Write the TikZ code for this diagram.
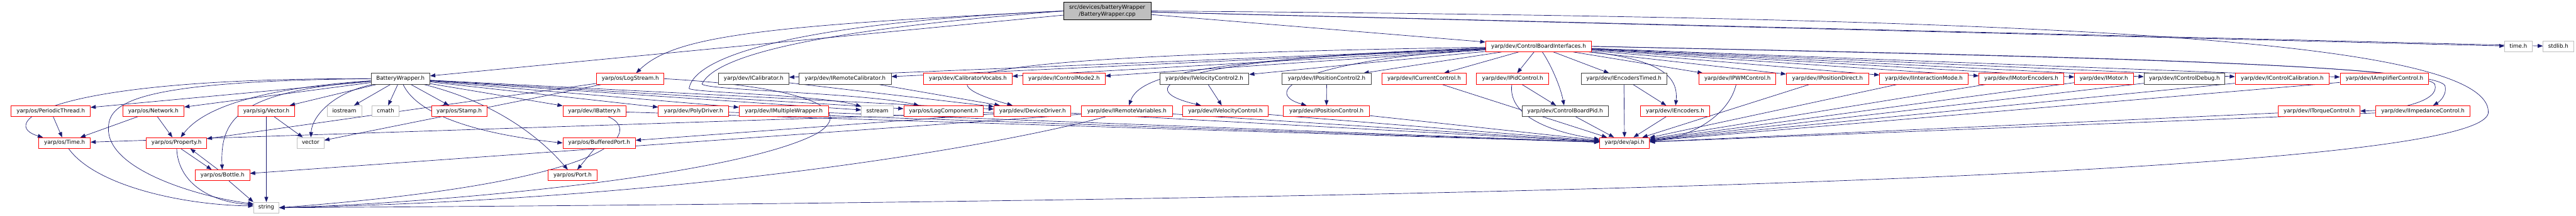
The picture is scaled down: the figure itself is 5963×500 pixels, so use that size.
\documentclass[tikz,border=0pt]{standalone}
\usepackage{fontspec}
\setmainfont{DejaVu Sans}
\usetikzlibrary{arrows.meta}
\pgfdeclarelayer{bg}
\pgfsetlayers{bg,main}
\definecolor{dnavy}{HTML}{191970}
\definecolor{dred}{HTML}{FF0000}
\definecolor{dgrey}{HTML}{BFBFBF}
\definecolor{dblack}{HTML}{404040}

\begin{document}
\begin{tikzpicture}[x=1pt,y=-1pt,every node/.style={font=\fontsize{12.7}{16}\selectfont,inner sep=0pt,fill=white,line width=1.2pt},hbox/.style={minimum height=25pt,text height=9.5pt,text depth=3pt},hred/.style={hbox,draw=dred},hblk/.style={hbox,draw=dblack},hgry/.style={hbox,draw=dgrey},hroot/.style={draw=black,fill=dgrey,minimum height=41pt,align=center},arr/.style={-{Triangle[length=12pt,width=9pt]},dnavy,line width=1pt}]
\useasboundingbox (0,0) rectangle (5963,500);
\node[hroot,minimum width=202pt] (rt) at (2563,25.5) {src/devices/batteryWrapper\\/BatteryWrapper.cpp};
\node[hred,minimum width=245pt] (cbi) at (3561.5,107.5) {yarp/dev/ControlBoardInterfaces.h};
\node[hgry,minimum width=63pt] (timeh) at (5829.5,107.5) {time.h};
\node[hgry,minimum width=70pt] (stdl) at (5922,107.5) {stdlib.h};
\node[hblk,minimum width=136pt] (bwh) at (927,182.5) {BatteryWrapper.h};
\node[hred,minimum width=156pt] (logs) at (1459,182.5) {yarp/os/LogStream.h};
\node[hblk,minimum width=163pt] (ical) at (1744.5,182.5) {yarp/dev/ICalibrator.h};
\node[hblk,minimum width=213pt] (iremcal) at (1956.5,182.5) {yarp/dev/IRemoteCalibrator.h};
\node[hred,minimum width=205pt] (calvoc) at (2240.5,182.5) {yarp/dev/CalibratorVocabs.h};
\node[hred,minimum width=190pt] (icm2) at (2463,182.5) {yarp/dev/IControlMode2.h};
\node[hblk,minimum width=206pt] (ivc2) at (2788,182.5) {yarp/dev/IVelocityControl2.h};
\node[hblk,minimum width=206pt] (ipc2) at (3071,182.5) {yarp/dev/IPositionControl2.h};
\node[hred,minimum width=195pt] (icur) at (3296.5,182.5) {yarp/dev/ICurrentControl.h};
\node[hred,minimum width=167pt] (ipid) at (3501.5,182.5) {yarp/dev/IPidControl.h};
\node[hblk,minimum width=198pt] (iet) at (3759,182.5) {yarp/dev/IEncodersTimed.h};
\node[hred,minimum width=178pt] (ipwm) at (4022,182.5) {yarp/dev/IPWMControl.h};
\node[hred,minimum width=191pt] (ipd) at (4230.5,182.5) {yarp/dev/IPositionDirect.h};
\node[hred,minimum width=205pt] (iim) at (4453.5,182.5) {yarp/dev/IInteractionMode.h};
\node[hred,minimum width=196pt] (ime) at (4679,182.5) {yarp/dev/IMotorEncoders.h};
\node[hred,minimum width=136pt] (imot) at (4870,182.5) {yarp/dev/IMotor.h};
\node[hblk,minimum width=187pt] (icd) at (5056.5,182.5) {yarp/dev/IControlDebug.h};
\node[hred,minimum width=218pt] (icalib) at (5283,182.5) {yarp/dev/IControlCalibration.h};
\node[hred,minimum width=205pt] (iamp) at (5519.5,182.5) {yarp/dev/IAmplifierControl.h};
\node[hred,minimum width=183pt] (pthr) at (117.5,257.5) {yarp/os/PeriodicThread.h};
\node[hred,minimum width=142pt] (net) at (355,257.5) {yarp/os/Network.h};
\node[hred,minimum width=131pt] (vech) at (616.5,257.5) {yarp/sig/Vector.h};
\node[hgry,minimum width=80pt] (iost) at (797,257.5) {iostream};
\node[hgry,minimum width=63pt] (cmath) at (892.5,257.5) {cmath};
\node[hred,minimum width=128pt] (stamp) at (1063,257.5) {yarp/os/Stamp.h};
\node[hred,minimum width=146pt] (ibat) at (1376,257.5) {yarp/dev/IBattery.h};
\node[hred,minimum width=163pt] (poly) at (1605.5,257.5) {yarp/dev/PolyDriver.h};
\node[hred,minimum width=207pt] (imw) at (1814.5,257.5) {yarp/dev/IMultipleWrapper.h};
\node[hgry,minimum width=74pt] (sstr) at (2031,257.5) {sstream};
\node[hred,minimum width=184pt] (logc) at (2184,257.5) {yarp/os/LogComponent.h};
\node[hred,minimum width=178pt] (devd) at (2390,257.5) {yarp/dev/DeviceDriver.h};
\node[hred,minimum width=211pt] (irv) at (2608.5,257.5) {yarp/dev/IRemoteVariables.h};
\node[hred,minimum width=199pt] (ivc) at (2836.5,257.5) {yarp/dev/IVelocityControl.h};
\node[hred,minimum width=199pt] (ipc) at (3070.5,257.5) {yarp/dev/IPositionControl.h};
\node[hblk,minimum width=200pt] (cbpid) at (3623,257.5) {yarp/dev/ControlBoardPid.h};
\node[hred,minimum width=159pt] (ienc) at (3877.5,257.5) {yarp/dev/IEncoders.h};
\node[hred,minimum width=189pt] (itq) at (5368.5,257.5) {yarp/dev/ITorqueControl.h};
\node[hred,minimum width=219pt] (iimp) at (5608.5,257.5) {yarp/dev/IImpedanceControl.h};
\node[hred,minimum width=119pt] (timeo) at (149.5,331.5) {yarp/os/Time.h};
\node[hred,minimum width=139pt] (prop) at (408.5,331.5) {yarp/os/Property.h};
\node[hgry,minimum width=62pt] (vecstd) at (719,331.5) {vector};
\node[hred,minimum width=168pt] (bport) at (1387,331.5) {yarp/os/BufferedPort.h};
\node[hred,minimum width=115pt] (api) at (3760.5,331.5) {yarp/dev/api.h};
\node[hred,minimum width=126pt] (bottle) at (515,406.5) {yarp/os/Bottle.h};
\node[hred,minimum width=113pt] (port) at (1325.5,406.5) {yarp/os/Port.h};
\node[hgry,minimum width=59pt] (str) at (616.5,481.5) {string};
\begin{pgfonlayer}{bg}
\draw[arr] (rt)--(bwh); \draw[arr] (rt)--(cbi); \draw[arr] (rt)--(timeh); \draw[arr] (rt)--(stdl);
\draw[arr] (rt.west) .. controls (1750,60) and (1560,85) .. (logs);
\draw[arr] (rt.west) .. controls (1900,50) and (1610,120) .. (1595,205) .. controls (1600,215) and (1900,220) .. (sstr);
\draw[arr] (rt.west) .. controls (1950,65) and (1660,120) .. (1625,195) .. controls (1640,210) and (2000,215) .. (logc);
\draw[arr] (rt.east) .. controls (4600,40) and (5760,80) .. (5760,260) .. controls (5760,430) and (2600,470) .. (str.east);
\draw[arr] (bwh)--(pthr); \draw[arr] (bwh)--(net); \draw[arr] (bwh)--(vech); \draw[arr] (bwh)--(iost); \draw[arr] (bwh)--(cmath); \draw[arr] (bwh)--(stamp);
\draw[arr] (bwh)--(ibat); \draw[arr] (bwh)--(poly); \draw[arr] (bwh)--(imw); \draw[arr] (bwh)--(sstr); \draw[arr] (bwh)--(logc); \draw[arr] (bwh)--(devd);
\draw[arr] (bwh.west) .. controls (80,180) and (0,290) .. ([xshift=10pt]timeo.north west);
\draw[arr] (bwh) .. controls (600,205) and (470,250) .. (prop);
\draw[arr] (bwh) .. controls (560,212) and (509,270) .. (bottle);
\draw[arr] (bwh.west) .. controls (300,188) and (250,240) .. (251,300) .. controls (252,400) and (480,460) .. ([yshift=9pt]str.west);
\draw[arr] (bwh) .. controls (770,215) and (722,270) .. (vecstd);
\draw[arr] (bwh) .. controls (965,265) and (1100,310) .. (bport.west);
\draw[arr] (bwh) .. controls (1160,240) and (1260,330) .. (port);
\draw[arr] (logs)--(vecstd); \draw[arr] (logs)--(prop);
\draw[arr] (logs.east) .. controls (1850,200) and (1990,250) .. (1890,310) .. controls (1700,410) and (1000,472) .. (str.east);
\draw[arr] (pthr)--(timeo); \draw[arr] (net)--(timeo); \draw[arr] (net)--(prop); \draw[arr] (vech)--(vecstd); \draw[arr] (vech)--(str); \draw[arr] (bport)--(port);
\draw[arr] ([xshift=10pt]prop.south)--([xshift=-25pt]bottle.north); \draw[arr] ([xshift=-10pt]bottle.north)--([xshift=32pt]prop.south);
\draw[arr] (timeo) .. controls (220,430) and (420,475) .. ([yshift=4pt]str.west);
\draw[arr] (prop) .. controls (412,420) and (480,468) .. ([yshift=7pt]str.west);
\draw[arr] (bottle)--(str.north west);
\draw[arr] (irv)--(bottle); \draw[arr] (irv) .. controls (2300,340) and (1600,462) .. (str.east);
\draw[arr] (ibat) .. controls (1480,300) and (1460,420) .. (str.east);
\draw[arr] (devd)--(timeo); \draw[arr] (devd)--(bport);
\draw[arr] (cbi)--(ical); \draw[arr] (cbi)--(iremcal); \draw[arr] (cbi)--(calvoc); \draw[arr] (cbi)--(icm2); \draw[arr] (cbi)--(ivc2); \draw[arr] (cbi)--(ipc2);
\draw[arr] (cbi)--(icur); \draw[arr] (cbi)--(ipid); \draw[arr] (cbi)--(iet); \draw[arr] (cbi)--(ipwm); \draw[arr] (cbi)--(ipd); \draw[arr] (cbi)--(iim);
\draw[arr] (cbi)--(ime); \draw[arr] (cbi)--(imot); \draw[arr] (cbi)--(icd); \draw[arr] (cbi)--(icalib); \draw[arr] (cbi)--(iamp);
\draw[arr] (cbi) .. controls (3590,150) and (3612,200) .. (cbpid);
\draw[arr] (cbi.south east) .. controls (3850,140) and (3885,180) .. (ienc);
\draw[arr] (cbi) .. controls (2800,138) and (2640,170) .. (irv);
\draw[arr] (cbi) .. controls (2700,135) and (2610,205) .. (ivc);
\draw[arr] (cbi) .. controls (3000,140) and (2920,215) .. (ipc);
\draw[arr] (cbi) .. controls (2300,128) and (2080,170) .. (devd);
\draw[arr] (cbi.east) .. controls (4800,130) and (5600,150) .. (5636,195) .. controls (5650,235) and (5550,255) .. (itq.east);
\draw[arr] (cbi.east) .. controls (4800,132) and (5650,150) .. (5660,200) .. controls (5665,225) and (5640,240) .. (iimp);
\draw[arr] (ivc2)--(ivc); \draw[arr] (ipc2)--(ipc); \draw[arr] (ipid)--(cbpid); \draw[arr] (iet)--(ienc); \draw[arr] (ical)--(devd); \draw[arr] (iremcal)--(devd);
\draw[arr] (icur)--(api); \draw[arr] (ipd)--(api); \draw[arr] (iim)--(api); \draw[arr] (ime)--(api); \draw[arr] (imot)--(api); \draw[arr] (icd)--(api);
\draw[arr] (icalib)--(api); \draw[arr] (iamp)--(api); \draw[arr] (itq)--(api); \draw[arr] (iimp)--(api); \draw[arr] (iet)--(api); \draw[arr] (ienc)--(api); \draw[arr] (cbpid)--(api);
\draw[arr] (ipid) .. controls (3490,265) and (3580,305) .. (api);
\draw[arr] (ipwm) .. controls (4000,275) and (3900,322) .. (api);
\draw[arr] (irv)--(api); \draw[arr] (ivc)--(api); \draw[arr] (ipc)--(api); \draw[arr] (devd)--(api); \draw[arr] (imw)--(api); \draw[arr] (poly)--(api); \draw[arr] (ibat)--(api);
\end{pgfonlayer}
\end{tikzpicture}
\end{document}
